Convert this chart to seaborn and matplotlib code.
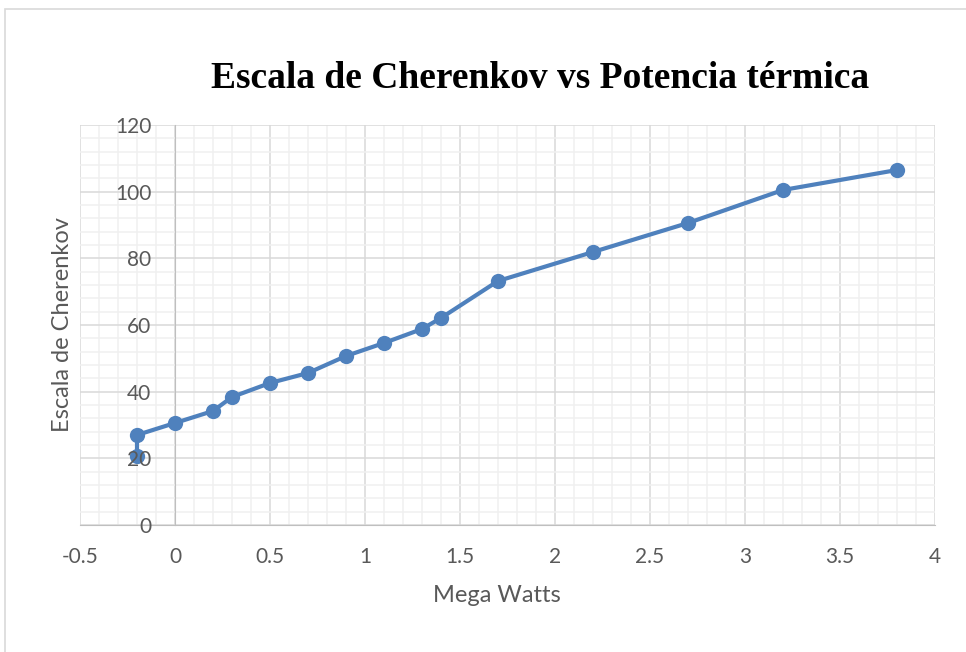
# Escala de Cherenkov vs Potencia termica

import numpy as np
import pandas as pd
import matplotlib
matplotlib.use("Agg")
import matplotlib.pyplot as plt
import matplotlib.patches as patches
from matplotlib.ticker import MultipleLocator
import seaborn as sns

# data
mega_watts = [-0.2, -0.2, 0.0, 0.2, 0.3, 0.5, 0.7, 0.9, 1.1, 1.3, 1.4, 1.7, 2.2, 2.7, 3.2, 3.8]
escala = [20.6, 27.0, 30.6, 34.2, 38.4, 42.6, 45.6, 50.7, 54.6, 58.8, 62.1, 73.2, 81.9, 90.6, 100.5, 106.5]

title = "Escala de Cherenkov vs Potencia térmica"
x_label = "Mega Watts"
y_label = "Escala de Cherenkov"
x_ticks = [-0.5, 0, 0.5, 1, 1.5, 2, 2.5, 3, 3.5, 4]
x_ticklabels = ["-0.5", "0", "0.5", "1", "1.5", "2", "2.5", "3", "3.5", "4"]

df = pd.DataFrame({"mw": mega_watts, "esc": escala})

sns.set_style("white")
plt.rcParams["font.family"] = ["Lato", "DejaVu Sans"]

grey_txt = "#595959"
blue = "#4F81BD"
pos = [80 / 966, 1 - 525 / 652, 855 / 966, 400 / 652]

fig = plt.figure(figsize=(9.66, 6.52), dpi=100)
ax = fig.add_axes(pos)

# chart border (Excel chart area)
fig.patches.append(patches.Rectangle((5 / 966, -0.1), 1.2, 1 - 9 / 652 + 0.1,
                                     transform=fig.transFigure, fill=False,
                                     edgecolor="#D9D9D9", linewidth=1.2))

sns.lineplot(data=df, x="mw", y="esc", ax=ax, sort=False, estimator=None,
             color=blue, linewidth=3, marker="o", markersize=11,
             markeredgewidth=0, zorder=5)

ax.set_xlim(-0.5, 4)
ax.set_ylim(0, 120)
ax.xaxis.set_major_locator(MultipleLocator(0.5))
ax.xaxis.set_minor_locator(MultipleLocator(0.1))
ax.yaxis.set_major_locator(MultipleLocator(20))
ax.yaxis.set_minor_locator(MultipleLocator(4))

ax.grid(which="major", color="#D9D9D9", linewidth=1.1)
ax.grid(which="minor", color="#F0F0F0", linewidth=1.1)
ax.set_axisbelow(True)

for s in ["top", "right"]:
    ax.spines[s].set_visible(False)
ax.spines["left"].set_position(("data", 0))
ax.spines["left"].set_color("#BFBFBF")
ax.spines["bottom"].set_color("#BFBFBF")

ax.tick_params(which="major", direction="out", length=6, width=1, color="#BFBFBF",
               labelsize=15, labelcolor=grey_txt)
ax.tick_params(axis="y", labelleft=False)
ax.tick_params(axis="x", pad=10)
ax.tick_params(which="minor", length=0)
ax.set_xticks(x_ticks)
ax.set_xticklabels(x_ticklabels)

ax.set_xlabel(x_label, fontsize=17, color=grey_txt)
ax.set_ylabel(y_label, fontsize=17, color=grey_txt)
ax.xaxis.set_label_coords(0.488, -0.15)
ax.yaxis.set_label_coords(-0.008, 0.5)

# overlay axes so the y tick labels sit on top of the markers (as in Excel)
ax2 = fig.add_axes(pos, sharey=ax, frameon=False, zorder=3)
ax2.set_xlim(-0.5, 4)
ax2.patch.set_visible(False)
for s in ["top", "right", "bottom"]:
    ax2.spines[s].set_visible(False)
ax2.spines["left"].set_position(("data", 0))
ax2.spines["left"].set_visible(False)
ax2.tick_params(axis="x", bottom=False, labelbottom=False)
ax2.tick_params(axis="y", which="major", length=6, color="#BFBFBF", pad=11,
                labelsize=15, labelcolor=grey_txt)
ax2.tick_params(which="minor", length=0)
ax2.set_ylabel("")

fig.text(540 / 966, 1 - 79 / 652, title, ha="center", va="center",
         fontsize=27, fontweight="bold", family="Liberation Serif", color="black")

fig.savefig("out.png", dpi=100)
